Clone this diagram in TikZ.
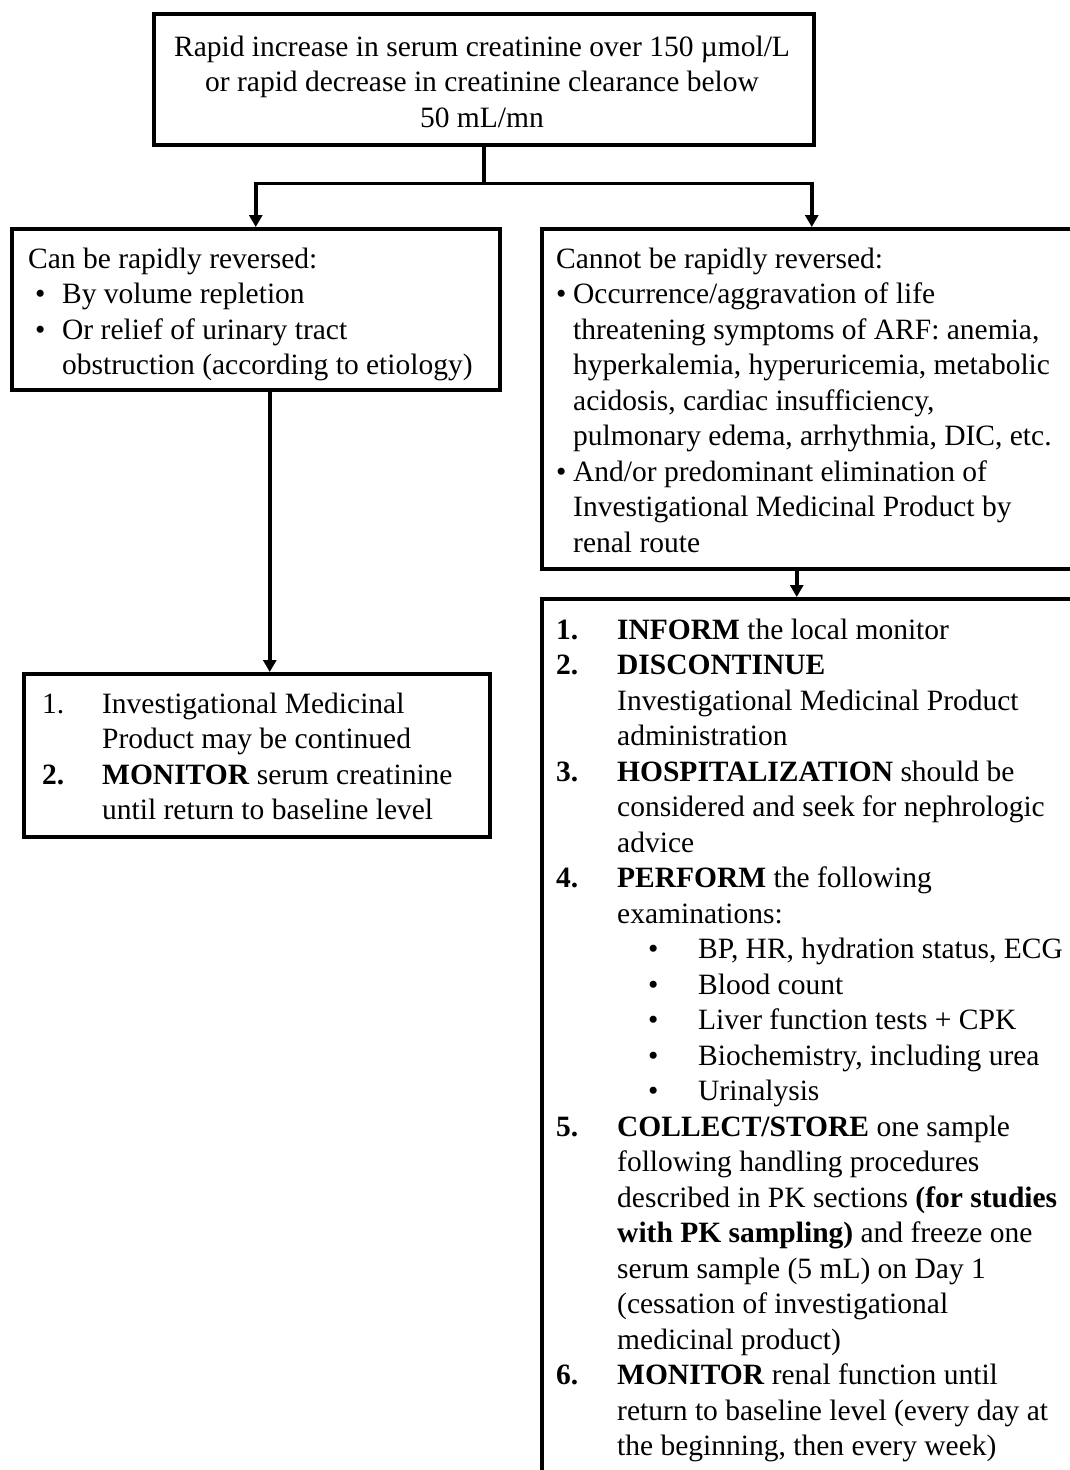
\documentclass[tikz,border=0pt]{standalone}
\usepackage{fontspec}
\setmainfont{Liberation Serif}
\usetikzlibrary{arrows.meta,calc}

% hanging labels for list lines
\newcommand{\lbl}[2]{\makebox[#1][l]{#2}}
\newcommand{\hang}[1]{\hspace*{#1}}

\begin{document}
\begin{tikzpicture}[x=1pt,y=-1pt,
  box/.style={draw=black,line width=3.5pt,rectangle,inner sep=0pt,anchor=north west},
  txt/.style={anchor=north west,inner sep=0pt,align=left,font=\fontsize{29.5}{35.5}\selectfont},
  ctxt/.style={anchor=north,inner sep=0pt,align=center,font=\fontsize{29.5}{35.5}\selectfont},
  conn/.style={line width=3.5pt},
  arr/.style={line width=3.5pt,-{Triangle[width=13pt,length=12pt]}}]

\useasboundingbox (0,0) rectangle (1070,1470);
\clip (0,0) rectangle (1070,1470);

% boxes
\node[box,minimum width=660pt,minimum height=131pt] (top) at (152,12) {};
\node[box,minimum width=488pt,minimum height=161pt] (canrev) at (10,227) {};
\node[box,minimum width=540pt,minimum height=340pt] (cannotrev) at (540,227) {};
\node[box,minimum width=466pt,minimum height=163pt] (contbox) at (22,672) {};
\node[box,minimum width=540pt,minimum height=920pt] (stopbox) at (540,597) {};

% texts
\node[ctxt] (toptxt) at (482,31.15) {\strut Rapid increase in serum creatinine over 150 µmol/L\\
  \strut or rapid decrease in creatinine clearance below\\
  \strut 50 mL/mn};

\node[txt] (canrevtxt) at (28,243.15) {\strut Can be rapidly reversed:\\
  \strut\lbl{34pt}{\hspace{7pt}•}By volume repletion\\
  \strut\lbl{34pt}{\hspace{7pt}•}Or relief of urinary tract\\
  \strut\hang{34pt}obstruction (according to etiology)};

\node[txt] (cannotrevtxt) at (556,243.15) {\strut Cannot be rapidly reversed:\\
  \strut\lbl{17pt}{•}Occurrence/aggravation of life\\
  \strut\hang{17pt}threatening symptoms of ARF: anemia,\\
  \strut\hang{17pt}hyperkalemia, hyperuricemia, metabolic\\
  \strut\hang{17pt}acidosis, cardiac insufficiency,\\
  \strut\hang{17pt}pulmonary edema, arrhythmia, DIC, etc.\\
  \strut\lbl{17pt}{•}And/or predominant elimination of\\
  \strut\hang{17pt}Investigational Medicinal Product by\\
  \strut\hang{17pt}renal route};

\node[txt] (conttxt) at (42,688.15) {\strut\lbl{60pt}{1.}Investigational Medicinal\\
  \strut\hang{60pt}Product may be continued\\
  \strut\lbl{60pt}{\textbf{2.}}\textbf{MONITOR} serum creatinine\\
  \strut\hang{60pt}until return to baseline level};

\node[txt] (stoptxt) at (556,614.15) {\strut\lbl{61pt}{\textbf{1.}}\textbf{INFORM} the local monitor\\
  \strut\lbl{61pt}{\textbf{2.}}\textbf{DISCONTINUE}\\
  \strut\hang{61pt}Investigational Medicinal Product\\
  \strut\hang{61pt}administration\\
  \strut\lbl{61pt}{\textbf{3.}}\textbf{HOSPITALIZATION} should be\\
  \strut\hang{61pt}considered and seek for nephrologic\\
  \strut\hang{61pt}advice\\
  \strut\lbl{61pt}{\textbf{4.}}\textbf{PERFORM} the following\\
  \strut\hang{61pt}examinations:\\
  \strut\lbl{142pt}{\hspace{92pt}•}BP, HR, hydration status, ECG\\
  \strut\lbl{142pt}{\hspace{92pt}•}Blood count\\
  \strut\lbl{142pt}{\hspace{92pt}•}Liver function tests + CPK\\
  \strut\lbl{142pt}{\hspace{92pt}•}Biochemistry, including urea\\
  \strut\lbl{142pt}{\hspace{92pt}•}Urinalysis\\
  \strut\lbl{61pt}{\textbf{5.}}\textbf{COLLECT/STORE} one sample\\
  \strut\hang{61pt}following handling procedures\\
  \strut\hang{61pt}described in PK sections \textbf{(for studies}\\
  \strut\hang{61pt}\textbf{with PK sampling)} and freeze one\\
  \strut\hang{61pt}serum sample (5 mL) on Day 1\\
  \strut\hang{61pt}(cessation of investigational\\
  \strut\hang{61pt}medicinal product)\\
  \strut\lbl{61pt}{\textbf{6.}}\textbf{MONITOR} renal function until\\
  \strut\hang{61pt}return to baseline level (every day at\\
  \strut\hang{61pt}the beginning, then every week)};

% connectors
\coordinate (split) at ([yshift=-37pt]top.south);
\draw[conn] (top.south) -- (split);
\draw[arr] (split) -| (canrev.north);
\draw[arr] (split) -| (cannotrev.north);
\draw[arr] ([xshift=14pt]canrev.south) -- ([xshift=13pt]contbox.north);
\draw[arr] ([xshift=-15pt]cannotrev.south) -- ([xshift=-15pt]stopbox.north);

\end{tikzpicture}
\end{document}
